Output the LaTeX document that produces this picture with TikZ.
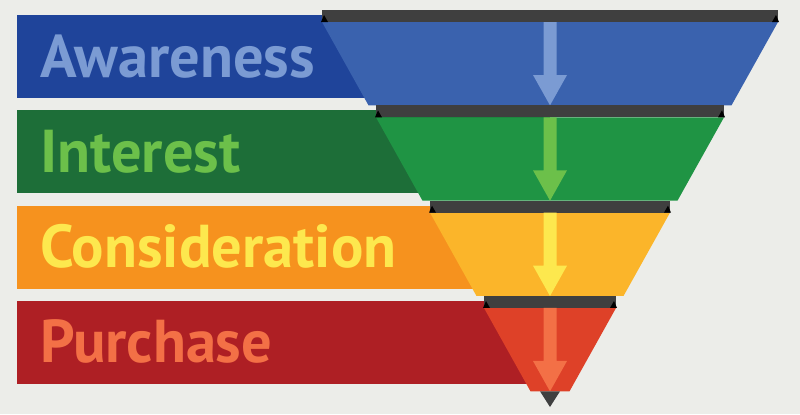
\documentclass[tikz,border=0pt]{standalone}
\usepackage{fontspec}
\setmainfont{PT Sans}
\definecolor{bg}{HTML}{ECEDE9}
\definecolor{band}{HTML}{3F3F3F}
\definecolor{awbar}{HTML}{1F449A}
\definecolor{awfun}{HTML}{3A62AE}
\definecolor{awlit}{HTML}{7B9BD3}
\definecolor{inbar}{HTML}{1D6E38}
\definecolor{infun}{HTML}{1F9444}
\definecolor{inlit}{HTML}{6CC04A}
\definecolor{cobar}{HTML}{F6921E}
\definecolor{cofun}{HTML}{FBB52A}
\definecolor{colit}{HTML}{FDE84E}
\definecolor{pubar}{HTML}{AE1F24}
\definecolor{pufun}{HTML}{DE4128}
\definecolor{pulit}{HTML}{F37046}
\begin{document}
\begin{tikzpicture}[x=1bp, y=-1bp, line join=round]
 \def\cx{550} \def\dy{95.33}
 \fill[bg] (0,0) rectangle (800,414);
 \foreach \k/\txt/\bc/\fc/\lc in {0/Awareness/awbar/awfun/awlit, 1/Interest/inbar/infun/inlit,
   2/Consideration/cobar/cofun/colit, 3/Purchase/pubar/pufun/pulit}{
  \pgfmathsetmacro\yt{10+\dy*\k}
  \pgfmathsetmacro\w{228-54*\k}
  \fill[\bc] (17,\yt+5) rectangle (\cx,\yt+88);
  \node[anchor=base west, inner sep=0pt, text=\lc, font=\fontsize{60.7}{61}\selectfont\bfseries] (lab\k) at (40,\yt+67) {\txt};
  \fill[\fc] (\cx-\w,\yt+12)--(\cx+\w,\yt+12)--(\cx+\w-46.5,\yt+\dy)--(\cx-\w+46.5,\yt+\dy)--cycle;
  \fill[band] (\cx-\w,\yt) rectangle (\cx+\w,\yt+12);
  \fill[black] (\cx-\w-1,\yt+12)--(\cx-\w+6,\yt+12)--(\cx-\w+2,\yt+5)--cycle
               (\cx+\w+1,\yt+12)--(\cx+\w-6,\yt+12)--(\cx+\w-2,\yt+5)--cycle;
  \fill[\lc] (\cx-6.5,\yt+12)--(\cx+6.5,\yt+12)--(\cx+6.5,\yt+65)--(\cx+17,\yt+65)
             --(\cx,\yt+\dy)--(\cx-17,\yt+65)--(\cx-6.5,\yt+65)--cycle;
 }
 \fill[band] (\cx-10,391.3)--(\cx+10,391.3)--(\cx,407)--cycle;
\end{tikzpicture}
\end{document}
